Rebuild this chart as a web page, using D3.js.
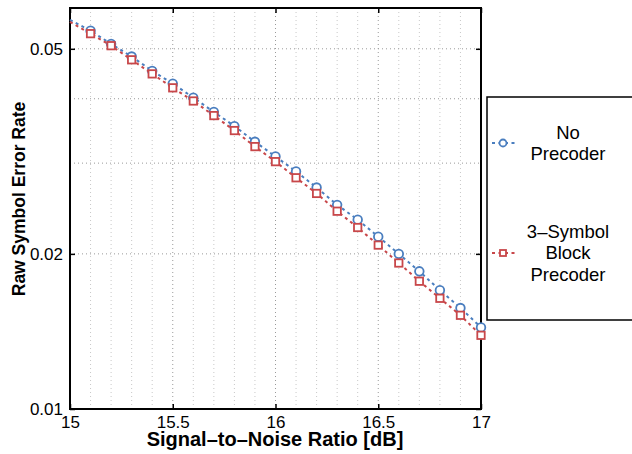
<!DOCTYPE html>
<html>
<head>
<meta charset="utf-8">
<script src="https://cdn.jsdelivr.net/npm/d3@7"></script>
<style>
  body { margin: 0; background: #fff; }
  svg { display: block; font-family: "Liberation Sans", Arial, sans-serif; }
</style>
</head>
<body>
<svg id="chart" width="632" height="454"></svg>
<script>
// data
let snr = [15.0, 15.1, 15.2, 15.3, 15.4, 15.5, 15.6, 15.7, 15.8, 15.9, 16.0,
           16.1, 16.2, 16.3, 16.4, 16.5, 16.6, 16.7, 16.8, 16.9, 17.0];
let serNoPrecoder = [0.0569, 0.0542, 0.0511, 0.0483, 0.0453, 0.0428, 0.0402, 0.0377, 0.0354, 0.0330, 0.0309,
                     0.0289, 0.0269, 0.0249, 0.0233, 0.0216, 0.0200, 0.0185, 0.0170, 0.0157, 0.0144];
let serBlock = [0.0564, 0.0535, 0.0507, 0.0476, 0.0447, 0.0420, 0.0396, 0.0371, 0.0347, 0.0323, 0.0302,
                0.0281, 0.0262, 0.0242, 0.0225, 0.0208, 0.0192, 0.0177, 0.0164, 0.0152, 0.0139];
let xTicks = [15, 15.5, 16, 16.5, 17];
let yTicks = [0.01, 0.02, 0.05];
let yGrid = [0.02, 0.03, 0.04, 0.05];
let legendLabels = [['No', 'Precoder'], ['3\u2013Symbol', 'Block', 'Precoder']];

let blue = '#4a7ebf', red = '#c8474a';

let svg = d3.select('#chart');
let m = {left: 70, top: 8, right: 481, bottom: 409};

let x = d3.scaleLinear().domain([15, 17]).range([m.left, m.right]);
let y = d3.scaleLog().domain([0.01, 0.06]).range([m.bottom, m.top]);

// grid
let grid = svg.append('g').attr('class', 'grid');
grid.selectAll('line.v')
  .data(d3.range(151, 170).map(d => d / 10))
  .enter().append('line')
  .attr('x1', d => x(d)).attr('x2', d => x(d))
  .attr('y1', m.top).attr('y2', m.bottom)
  .attr('stroke', d => xTicks.includes(d) ? '#9a9a9a' : '#c8c8c8')
  .attr('stroke-width', 1)
  .attr('stroke-dasharray', '1,3');

grid.selectAll('line.h')
  .data(yGrid)
  .enter().append('line')
  .attr('x1', m.left).attr('x2', m.right)
  .attr('y1', d => y(d)).attr('y2', d => y(d))
  .attr('stroke', '#9a9a9a')
  .attr('stroke-width', 1)
  .attr('stroke-dasharray', '1,3');

// axes
let xAxis = svg.append('g')
  .attr('transform', `translate(0,${m.bottom})`)
  .call(d3.axisBottom(x).tickValues(xTicks).tickSize(-5).tickPadding(7).tickFormat(d3.format('')));
let xTop = svg.append('g')
  .attr('transform', `translate(0,${m.top})`)
  .call(d3.axisTop(x).tickValues(xTicks).tickSize(-5).tickFormat(''));
let yAxis = svg.append('g')
  .attr('transform', `translate(${m.left},0)`)
  .call(d3.axisLeft(y).tickValues(yTicks).tickSize(-5).tickPadding(7).tickFormat(d3.format('')));
let yRight = svg.append('g')
  .attr('transform', `translate(${m.right},0)`)
  .call(d3.axisRight(y).tickValues(yTicks).tickSize(-5).tickFormat(''));

[xAxis, xTop, yAxis, yRight].forEach(a => {
  a.select('.domain').remove();
  a.selectAll('.tick line').attr('stroke', '#000').attr('stroke-width', 1.5);
  a.selectAll('.tick text').attr('fill', '#000').style('font-size', '17px')
    .style('font-family', '"Liberation Sans", Arial, sans-serif');
});

svg.append('rect')
  .attr('x', m.left).attr('y', m.top)
  .attr('width', m.right - m.left).attr('height', m.bottom - m.top)
  .attr('fill', 'none').attr('stroke', '#000').attr('stroke-width', 2);

// axis titles
svg.append('text')
  .attr('x', 275).attr('y', 446)
  .attr('text-anchor', 'middle')
  .style('font-size', '20px').style('font-weight', 'bold')
  .text('Signal\u2013to\u2013Noise Ratio [dB]');

svg.append('text')
  .attr('transform', 'translate(25,199) rotate(-90)')
  .attr('text-anchor', 'middle')
  .style('font-size', '17.5px').style('font-weight', 'bold')
  .text('Raw Symbol Error Rate');

// series
let series = [
  {vals: serNoPrecoder, color: blue, shape: 'circle'},
  {vals: serBlock, color: red, shape: 'square'}
];

let line = d3.line().x(d => x(d[0])).y(d => y(d[1]));

series.forEach(s => {
  let pts = snr.map((v, i) => [v, s.vals[i]]);
  svg.append('path')
    .datum(pts)
    .attr('d', line)
    .attr('fill', 'none')
    .attr('stroke', s.color)
    .attr('stroke-width', 2)
    .attr('stroke-dasharray', '3,3.5');

  let mk = svg.append('g').selectAll('.mk')
    .data(pts.filter(d => d[0] > 15))
    .enter();
  if (s.shape == 'circle') {
    mk.append('circle')
      .attr('cx', d => x(d[0])).attr('cy', d => y(d[1]))
      .attr('r', 4.3)
      .attr('fill', '#fff').attr('stroke', s.color).attr('stroke-width', 1.8);
  } else {
    mk.append('rect')
      .attr('x', d => x(d[0]) - 3.7).attr('y', d => y(d[1]) - 3.7)
      .attr('width', 7.4).attr('height', 7.4)
      .attr('fill', '#fff').attr('stroke', s.color).attr('stroke-width', 1.8);
  }
});

// legend
let lg = svg.append('g');
lg.append('rect')
  .attr('x', 487).attr('y', 97)
  .attr('width', 160).attr('height', 223)
  .attr('fill', '#fff').attr('stroke', '#000').attr('stroke-width', 1.5);

let legendY = [143, 253];
series.forEach((s, i) => {
  let yy = legendY[i];
  lg.append('line')
    .attr('x1', 492).attr('x2', 516).attr('y1', yy).attr('y2', yy)
    .attr('stroke', s.color).attr('stroke-width', 2).attr('stroke-dasharray', '3,3.5');
  if (s.shape == 'circle') {
    lg.append('circle').attr('cx', 503).attr('cy', yy).attr('r', 3.5)
      .attr('fill', '#fff').attr('stroke', s.color).attr('stroke-width', 1.8);
  } else {
    lg.append('rect').attr('x', 500).attr('y', yy - 3).attr('width', 6).attr('height', 6)
      .attr('fill', '#fff').attr('stroke', s.color).attr('stroke-width', 1.8);
  }
  let lines = legendLabels[i];
  let lh = 21.5;
  let y0 = yy - (lines.length - 1) * lh / 2;
  lines.forEach((t, j) => {
    lg.append('text')
      .attr('x', 568).attr('y', y0 + j * lh)
      .attr('dy', '0.35em')
      .attr('text-anchor', 'middle')
      .style('font-size', '18.5px')
      .text(t);
  });
});
</script>
</body>
</html>
